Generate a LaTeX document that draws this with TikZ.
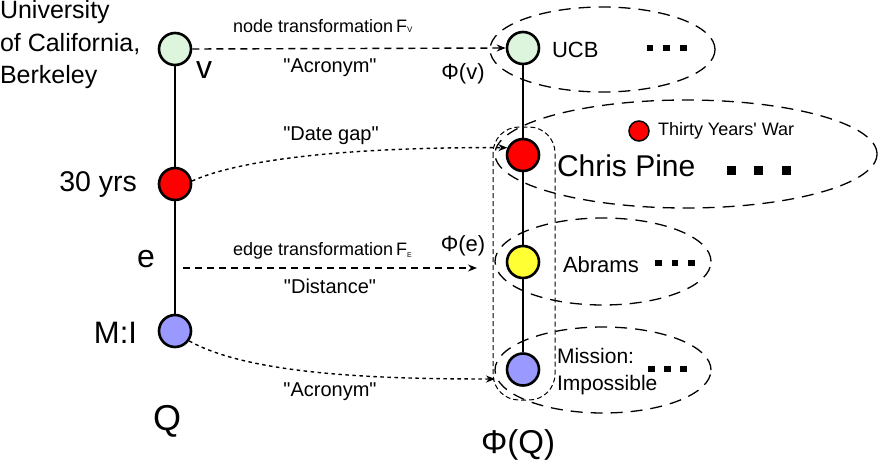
\documentclass[tikz,border=0pt]{standalone}
\usepackage{fontspec}
\setmainfont{Liberation Sans}[Ligatures=TeXOff]
\usetikzlibrary{arrows.meta}
\definecolor{vgreen}{RGB}{221,245,221}
\definecolor{nred}{RGB}{255,0,0}
\definecolor{nyellow}{RGB}{255,255,51}
\definecolor{nblue}{RGB}{153,153,255}
\newcommand\fsz[2]{\fontsize{#1}{#2}\selectfont}
\begin{document}
\begin{tikzpicture}[x=1pt,y=-1pt,
  gnode/.style={circle,draw=black,line width=2.6pt,minimum size=32pt,inner sep=0pt},
  edgeline/.style={line width=2.2pt},
  dashconn/.style={line width=1.4pt,dash pattern=on 7pt off 5pt,-{Stealth[length=9pt,width=7pt]}},
  dotconn/.style={line width=1.4pt,dash pattern=on 3.5pt off 3.5pt,-{Stealth[length=9pt,width=7pt]}},
  cloud/.style={draw,line width=1.3pt,dash pattern=on 12pt off 8pt},
  group/.style={draw,line width=1pt,dash pattern=on 5pt off 3pt,rounded corners=26pt},
  lbl/.style={inner sep=0pt,outer sep=0pt},
]
\useasboundingbox (0,0) rectangle (885,466);

% value clouds
\draw[cloud] (602.5,49.5) ellipse [x radius=112.5pt, y radius=42.5pt];
\draw[cloud] (686,154) ellipse [x radius=191pt, y radius=54pt];
\draw[cloud] (603,261.5) ellipse [x radius=108pt, y radius=43.5pt];
\draw[cloud] (603,370) ellipse [x radius=108pt, y radius=43pt];
\draw[group] (493,127) rectangle (555,400);

% query graph Q
\node[gnode,fill=vgreen] (v) at (175,49) {};
\node[gnode,fill=nred] (r1) at (175,184) {};
\node[gnode,fill=nblue] (mi) at (175,331) {};
\draw[edgeline] (v) -- (r1);
\draw[edgeline] (r1) -- (mi);

% transformed graph
\node[gnode,fill=vgreen] (ucb) at (523,48) {};
\node[gnode,fill=nred] (cp) at (523,155) {};
\node[gnode,fill=nyellow] (ab) at (523,262) {};
\node[gnode,fill=nblue] (mip) at (523,369.5) {};
\draw[edgeline] (ucb) -- (cp);
\draw[edgeline] (cp) -- (ab);
\draw[edgeline] (ab) -- (mip);

\node[circle,draw=black,line width=1.5pt,fill=nred,minimum size=20pt,inner sep=0pt] (tywdot) at (639,131) {};

% labels left
\node[lbl,anchor=north west,align=left,font=\fsz{25}{32.5}] (uni) at (0,0.5) {University\\of California,\\Berkeley};
\node[lbl,anchor=base,font=\fsz{32}{38}] (vl) at (204,78) {v};
\node[lbl,anchor=base east,font=\fsz{28.5}{32}] (yrs) at (137,191) {30 yrs};
\node[lbl,anchor=base,font=\fsz{32}{38}] (el) at (146,267) {e};
\node[lbl,anchor=base east,font=\fsz{31}{36}] (mil) at (137,343) {M:I};
\node[lbl,anchor=base,font=\fsz{36}{40}] (ql) at (167,430) {Q};

% connector labels
\node[lbl,anchor=base west,font=\fsz{18}{22}] (ntl) at (233,32) {node transformation\,F\raisebox{0pt}{\fsz{8}{8}V}};
\node[lbl,anchor=base,font=\fsz{20}{24}] (acr1) at (330,72) {"Acronym"};
\node[lbl,anchor=base,font=\fsz{20}{24}] (dg) at (331,140) {"Date gap"};
\node[lbl,anchor=base west,font=\fsz{18}{22}] (etl) at (233,255) {edge transformation\,F\raisebox{-2pt}{\fsz{7}{7}E}};
\node[lbl,anchor=base,font=\fsz{20}{24}] (dist) at (330,293) {"Distance"};
\node[lbl,anchor=base,font=\fsz{20}{24}] (acr2) at (330,396) {"Acronym"};
\node[lbl,anchor=base,font=\fsz{22}{26}] (phv) at (463,79) {Φ(v)};
\node[lbl,anchor=base,font=\fsz{22}{26}] (phe) at (463,251) {Φ(e)};

% labels right
\node[lbl,anchor=base west,font=\fsz{22}{26}] (ucbl) at (552,57) {UCB};
\node[lbl,anchor=base west,font=\fsz{18}{22}] (tyw) at (658,135) {Thirty Years' War};
\node[lbl,anchor=base west,font=\fsz{30}{34}] (cpl) at (557,176) {Chris Pine};
\node[lbl,anchor=base west,font=\fsz{22}{26}] (abl) at (563,272) {Abrams};
\node[lbl,anchor=north west,align=left,font=\fsz{21}{27}] (mipl) at (557,348) {Mission:\\Impossible};
\node[lbl,anchor=base,font=\fsz{33}{38}] (phq) at (518,453) {Φ(Q)};

% ellipsis squares
\foreach \cx in {650,666.5,683.5} \fill (\cx-3.25,44.75) rectangle +(6.5,6.5);
\foreach \cx in {731,758,786} \fill (\cx-4.5,165.5) rectangle +(9,9);
\foreach \cx in {658.5,675,691.5} \fill (\cx-3.25,259.75) rectangle +(6.5,6.5);
\foreach \cx in {651.5,667.5,683.5} \fill (\cx-3.25,365.75) rectangle +(6.5,6.5);

% connectors
\coordinate (e1) at (183,268);
\coordinate (e2) at (477,268);
\coordinate (mipin) at (495,379);
\draw[dashconn] (v.east) -- (ucb.west);
\draw[dotconn] (r1.10) .. controls (250,155) and (380,147) .. (cp.155);
\draw[dashconn] (e1) -- (e2);
\draw[dotconn] (mi.-35) .. controls (250,375) and (380,379) .. (mipin);
\end{tikzpicture}
\end{document}
